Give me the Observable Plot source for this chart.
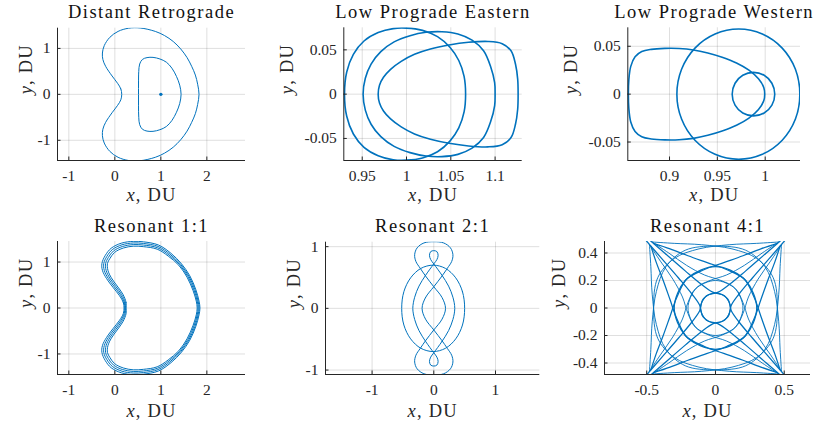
<!DOCTYPE html>
<html>
<head>
<meta charset="utf-8">
<script src="https://cdn.jsdelivr.net/npm/d3@7"></script>
<script src="https://cdn.jsdelivr.net/npm/@observablehq/plot@0.6"></script>
<style>
  html, body { margin: 0; padding: 0; background: #ffffff; }
  #root { position: relative; width: 820px; height: 425px; background: #ffffff; }
  #root svg { position: absolute; }
</style>
</head>
<body>
<div id="root"></div>
<script>
// ---------------- DATA ----------------
const titles = ["Distant Retrograde", "Low Prograde Eastern", "Low Prograde Western",
                "Resonant 1:1", "Resonant 2:1", "Resonant 4:1"];

const ticksDRO_x = [-1, 0, 1, 2], ticksDRO_y = [-1, 0, 1];
const ticksLPE_x = [0.95, 1, 1.05, 1.1], ticksLPE_y = [-0.05, 0, 0.05];
const ticksLPW_x = [0.9, 0.95, 1], ticksLPW_y = [-0.05, 0, 0.05];
const ticksR11_x = [-1, 0, 1, 2], ticksR11_y = [-1, 0, 1];
const ticksR21_x = [-1, 0, 1], ticksR21_y = [-1, 0, 1];
const ticksR41_x = [-0.5, 0, 0.5], ticksR41_y = [-0.4, -0.2, 0, 0.2, 0.4];

// Distant Retrograde
const droOuter = [[0.15,0],[0.13,0.12],[0.06,0.24],[-0.06,0.40],[-0.20,0.61],[-0.26,0.76],[-0.27,0.90],[-0.23,1.06],[-0.11,1.24],[0.07,1.37],[0.30,1.44],[0.55,1.445],[0.88,1.37],[1.08,1.28],[1.27,1.15],[1.43,0.99],[1.57,0.80],[1.67,0.61],[1.75,0.42],[1.80,0.22],[1.83,0],
  [1.80,-0.22],[1.75,-0.42],[1.67,-0.61],[1.57,-0.80],[1.43,-0.99],[1.27,-1.15],[1.08,-1.28],[0.88,-1.37],[0.55,-1.445],[0.30,-1.44],[0.07,-1.37],[-0.11,-1.24],[-0.23,-1.06],[-0.27,-0.90],[-0.26,-0.76],[-0.20,-0.61],[-0.06,-0.40],[0.06,-0.24],[0.13,-0.12]];
const droInner = [[0.515,0],[0.515,0.25],[0.52,0.50],[0.54,0.66],[0.60,0.76],[0.70,0.80],[0.83,0.805],[0.98,0.77],[1.12,0.70],[1.24,0.57],[1.34,0.39],[1.41,0.20],[1.44,0],
  [1.41,-0.20],[1.34,-0.39],[1.24,-0.57],[1.12,-0.70],[0.98,-0.77],[0.83,-0.805],[0.70,-0.80],[0.60,-0.76],[0.54,-0.66],[0.52,-0.50],[0.515,-0.25]];
const droCenter = [[1.0, 0.0]];

// Low Prograde Eastern
const lpeLoopA = [[0.930,0],[0.9325,0.025],[0.940,0.045],[0.952,0.060],[0.968,0.0695],[0.985,0.074],[1.000,0.0745],[1.018,0.072],[1.035,0.065],[1.049,0.053],[1.059,0.038],[1.065,0.020],[1.0667,0],
  [1.065,-0.020],[1.059,-0.038],[1.049,-0.053],[1.035,-0.065],[1.018,-0.072],[1.000,-0.0745],[0.985,-0.074],[0.968,-0.0695],[0.952,-0.060],[0.940,-0.045],[0.9325,-0.025]];
const lpeLoopB = [[0.951,0],[0.9535,0.018],[0.960,0.034],[0.971,0.048],[0.986,0.059],[1.004,0.066],[1.022,0.0698],[1.040,0.0705],[1.058,0.068],[1.074,0.061],[1.087,0.049],[1.095,0.031],[1.0995,0.013],[1.100,0],
  [1.0995,-0.013],[1.095,-0.031],[1.087,-0.049],[1.074,-0.061],[1.058,-0.068],[1.040,-0.0705],[1.022,-0.0698],[1.004,-0.066],[0.986,-0.059],[0.971,-0.048],[0.960,-0.034],[0.9535,-0.018]];
const lpeLoopC = [[0.968,0],[0.9695,0.010],[0.974,0.019],[0.982,0.028],[0.994,0.037],[1.009,0.045],[1.027,0.051],[1.048,0.0555],[1.070,0.0585],[1.092,0.0595],[1.108,0.057],[1.118,0.049],[1.123,0.034],[1.1255,0.017],[1.126,0],
  [1.1255,-0.017],[1.123,-0.034],[1.118,-0.049],[1.108,-0.057],[1.092,-0.0595],[1.070,-0.0585],[1.048,-0.0555],[1.027,-0.051],[1.009,-0.045],[0.994,-0.037],[0.982,-0.028],[0.974,-0.019],[0.9695,-0.010]];

// Low Prograde Western
const lpwBig = [[1.0362,0],[1.0316,0.0260],[1.0178,0.0481],[0.9970,0.0628],[0.9723,0.0680],[0.9476,0.0628],[0.9266,0.0481],[0.9126,0.0260],[0.9077,0],
  [0.9126,-0.0260],[0.9266,-0.0481],[0.9476,-0.0628],[0.9723,-0.0680],[0.9970,-0.0628],[1.0178,-0.0481],[1.0316,-0.0260]];
const lpwSmall = [[1.0100,0],[1.0070,0.0114],[0.9989,0.0197],[0.9878,0.0227],[0.9766,0.0197],[0.9685,0.0114],[0.9655,0],
  [0.9685,-0.0114],[0.9766,-0.0197],[0.9878,-0.0227],[0.9989,-0.0197],[1.0070,-0.0114]];
const lpwTeardrop = [[0.857,0],[0.8575,0.015],[0.8595,0.029],[0.8640,0.039],[0.8710,0.0445],[0.8810,0.0468],[0.8950,0.0478],[0.9100,0.0477],[0.9250,0.0462],[0.9400,0.0430],[0.9550,0.0385],[0.9700,0.0325],[0.9830,0.0250],[0.9930,0.0160],[0.9985,0.0070],[0.9995,0],
  [0.9985,-0.0070],[0.9930,-0.0160],[0.9830,-0.0250],[0.9700,-0.0325],[0.9550,-0.0385],[0.9400,-0.0430],[0.9250,-0.0462],[0.9100,-0.0477],[0.8950,-0.0478],[0.8810,-0.0468],[0.8710,-0.0445],[0.8640,-0.039],[0.8595,-0.029],[0.8575,-0.015]];

// Resonant 1:1 (four nearly parallel revolutions)
const r11Rev1 = [[0.20,0],[0.185,0.12],[0.10,0.27],[-0.04,0.45],[-0.18,0.64],[-0.27,0.82],[-0.28,0.97],[-0.21,1.14],[-0.08,1.30],[0.14,1.41],[0.40,1.45],[0.62,1.44],[0.95,1.37],[1.22,1.19],[1.45,0.96],[1.63,0.70],[1.76,0.40],[1.83,0.15],[1.85,0],
  [1.83,-0.15],[1.76,-0.40],[1.63,-0.70],[1.45,-0.96],[1.22,-1.19],[0.95,-1.37],[0.62,-1.44],[0.40,-1.45],[0.14,-1.41],[-0.08,-1.30],[-0.21,-1.14],[-0.28,-0.97],[-0.27,-0.82],[-0.18,-0.64],[-0.04,-0.45],[0.10,-0.27],[0.185,-0.12]];
const r11Rev2 = [[0.215,0],[0.205,0.12],[0.125,0.28],[-0.01,0.46],[-0.145,0.645],[-0.23,0.82],[-0.24,0.97],[-0.175,1.12],[-0.055,1.27],[0.155,1.375],[0.40,1.415],[0.62,1.405],[0.94,1.34],[1.20,1.17],[1.43,0.95],[1.61,0.69],[1.74,0.40],[1.81,0.15],[1.83,0],
  [1.81,-0.15],[1.74,-0.40],[1.61,-0.69],[1.43,-0.95],[1.20,-1.17],[0.94,-1.34],[0.62,-1.405],[0.40,-1.415],[0.155,-1.375],[-0.055,-1.27],[-0.175,-1.12],[-0.24,-0.97],[-0.23,-0.82],[-0.145,-0.645],[-0.01,-0.46],[0.125,-0.28],[0.205,-0.12]];
const r11Rev3 = [[0.23,0],[0.225,0.12],[0.15,0.29],[0.02,0.47],[-0.11,0.65],[-0.19,0.82],[-0.20,0.97],[-0.14,1.10],[-0.03,1.24],[0.17,1.34],[0.40,1.38],[0.62,1.37],[0.93,1.31],[1.18,1.15],[1.41,0.94],[1.59,0.68],[1.72,0.39],[1.79,0.15],[1.81,0],
  [1.79,-0.15],[1.72,-0.39],[1.59,-0.68],[1.41,-0.94],[1.18,-1.15],[0.93,-1.31],[0.62,-1.37],[0.40,-1.38],[0.17,-1.34],[-0.03,-1.24],[-0.14,-1.10],[-0.20,-0.97],[-0.19,-0.82],[-0.11,-0.65],[0.02,-0.47],[0.15,-0.29],[0.225,-0.12]];
const r11Rev4 = [[0.245,0],[0.245,0.12],[0.175,0.30],[0.05,0.48],[-0.075,0.655],[-0.15,0.82],[-0.16,0.97],[-0.105,1.08],[-0.005,1.21],[0.185,1.305],[0.40,1.345],[0.62,1.335],[0.92,1.28],[1.16,1.13],[1.39,0.93],[1.57,0.67],[1.70,0.38],[1.77,0.15],[1.79,0],
  [1.77,-0.15],[1.70,-0.38],[1.57,-0.67],[1.39,-0.93],[1.16,-1.13],[0.92,-1.28],[0.62,-1.335],[0.40,-1.345],[0.185,-1.305],[-0.005,-1.21],[-0.105,-1.08],[-0.16,-0.97],[-0.15,-0.82],[-0.075,-0.655],[0.05,-0.48],[0.175,-0.30],[0.245,-0.12]];

// Resonant 2:1
const r21Outer = [[0.50,0],[0.465,0.27],[0.355,0.495],[0.19,0.647],[-0.01,0.70],[-0.21,0.647],[-0.375,0.495],[-0.485,0.27],[-0.52,0],
  [-0.485,-0.27],[-0.375,-0.495],[-0.21,-0.647],[-0.01,-0.70],[0.19,-0.647],[0.355,-0.495],[0.465,-0.27]];
const r21Oval = [[0,-0.72],[0.13,-0.54],[0.24,-0.36],[0.31,-0.18],[0.34,0],[0.31,0.18],[0.24,0.36],[0.13,0.54],[0,0.72],
  [-0.05,0.79],[-0.07,0.86],[-0.05,0.92],[0,0.935],[0.05,0.92],[0.07,0.86],[0.05,0.79],[0,0.72],
  [-0.13,0.54],[-0.24,0.36],[-0.31,0.18],[-0.34,0],[-0.31,-0.18],[-0.24,-0.36],[-0.13,-0.54],[0,-0.72],
  [0.05,-0.79],[0.07,-0.86],[0.05,-0.92],[0,-0.935],[-0.05,-0.92],[-0.07,-0.86],[-0.05,-0.79]];
const r21Lobes = [[-0.19,0],[-0.134,0.175],[0,0.35],[0.134,0.525],[0.22,0.65],[0.29,0.76],[0.31,0.87],[0.27,0.98],[0.16,1.06],[0,1.08],[-0.16,1.06],[-0.27,0.98],[-0.31,0.87],[-0.29,0.76],[-0.22,0.65],[-0.134,0.525],[0,0.35],[0.134,0.175],
  [0.19,0],[0.134,-0.175],[0,-0.35],[-0.134,-0.525],[-0.22,-0.65],[-0.29,-0.76],[-0.31,-0.87],[-0.27,-0.98],[-0.16,-1.06],[0,-1.08],[0.16,-1.06],[0.27,-0.98],[0.31,-0.87],[0.29,-0.76],[0.22,-0.65],[0.134,-0.525],[0,-0.35],[-0.134,-0.175]];

// Resonant 4:1 : legs between apoapses (corners) through periapsis passes
const r41Peri011 = [
  [[-0.53,0.52],[-0.40,0.37],[-0.27,0.22],[-0.17,0.10],[-0.115,0.02],[-0.09,-0.065],[0,-0.11],[0.09,-0.065],[0.115,0.02],[0.17,0.10],[0.27,0.22],[0.40,0.37],[0.53,0.52]],
  [[0.52,0.53],[0.37,0.40],[0.22,0.27],[0.10,0.17],[0.02,0.115],[-0.065,0.09],[-0.11,0],[-0.065,-0.09],[0.02,-0.115],[0.10,-0.17],[0.22,-0.27],[0.37,-0.40],[0.52,-0.53]],
  [[0.53,-0.52],[0.40,-0.37],[0.27,-0.22],[0.17,-0.10],[0.115,-0.02],[0.09,0.065],[0,0.11],[-0.09,0.065],[-0.115,-0.02],[-0.17,-0.10],[-0.27,-0.22],[-0.40,-0.37],[-0.53,-0.52]],
  [[-0.52,-0.53],[-0.37,-0.40],[-0.22,-0.27],[-0.10,-0.17],[-0.02,-0.115],[0.065,-0.09],[0.11,0],[0.065,0.09],[-0.02,0.115],[-0.10,0.17],[-0.22,0.27],[-0.37,0.40],[-0.52,0.53]]];
const r41Peri020 = [
  [[-0.48,0.46],[-0.40,0.34],[-0.31,0.21],[-0.24,0.08],[-0.20,-0.04],[-0.145,-0.14],[0,-0.20],[0.145,-0.14],[0.20,-0.04],[0.24,0.08],[0.31,0.21],[0.40,0.34],[0.48,0.46]],
  [[0.46,0.48],[0.34,0.40],[0.21,0.31],[0.08,0.24],[-0.04,0.20],[-0.14,0.145],[-0.20,0],[-0.14,-0.145],[-0.04,-0.20],[0.08,-0.24],[0.21,-0.31],[0.34,-0.40],[0.46,-0.48]],
  [[0.48,-0.46],[0.40,-0.34],[0.31,-0.21],[0.24,-0.08],[0.20,0.04],[0.145,0.14],[0,0.20],[-0.145,0.14],[-0.20,0.04],[-0.24,-0.08],[-0.31,-0.21],[-0.40,-0.34],[-0.48,-0.46]],
  [[-0.46,-0.48],[-0.34,-0.40],[-0.21,-0.31],[-0.08,-0.24],[0.04,-0.20],[0.14,-0.145],[0.20,0],[0.14,0.145],[0.04,0.20],[-0.08,0.24],[-0.21,0.31],[-0.34,0.40],[-0.46,0.48]]];
const r41Peri030 = [
  [[-0.47,0.45],[-0.43,0.33],[-0.38,0.20],[-0.33,0.06],[-0.28,-0.08],[-0.20,-0.22],[0,-0.30],[0.20,-0.22],[0.28,-0.08],[0.33,0.06],[0.38,0.20],[0.43,0.33],[0.47,0.45]],
  [[0.45,0.47],[0.33,0.43],[0.20,0.38],[0.06,0.33],[-0.08,0.28],[-0.22,0.20],[-0.30,0],[-0.22,-0.20],[-0.08,-0.28],[0.06,-0.33],[0.20,-0.38],[0.33,-0.43],[0.45,-0.47]],
  [[0.47,-0.45],[0.43,-0.33],[0.38,-0.20],[0.33,-0.06],[0.28,0.08],[0.20,0.22],[0,0.30],[-0.20,0.22],[-0.28,0.08],[-0.33,-0.06],[-0.38,-0.20],[-0.43,-0.33],[-0.47,-0.45]],
  [[-0.45,-0.47],[-0.33,-0.43],[-0.20,-0.38],[-0.06,-0.33],[0.08,-0.28],[0.22,-0.20],[0.30,0],[0.22,0.20],[0.08,0.28],[-0.06,0.33],[-0.20,0.38],[-0.33,0.43],[-0.45,0.47]]];
const r41Peri045 = [
  [[-0.48,0.46],[-0.47,0.30],[-0.46,0.10],[-0.43,-0.12],[-0.36,-0.30],[-0.22,-0.42],[0,-0.45],[0.22,-0.42],[0.36,-0.30],[0.43,-0.12],[0.46,0.10],[0.47,0.30],[0.48,0.46]],
  [[0.46,0.48],[0.30,0.47],[0.10,0.46],[-0.12,0.43],[-0.30,0.36],[-0.42,0.22],[-0.45,0],[-0.42,-0.22],[-0.30,-0.36],[-0.12,-0.43],[0.10,-0.46],[0.30,-0.47],[0.46,-0.48]],
  [[0.48,-0.46],[0.47,-0.30],[0.46,-0.10],[0.43,0.12],[0.36,0.30],[0.22,0.42],[0,0.45],[-0.22,0.42],[-0.36,0.30],[-0.43,0.12],[-0.46,-0.10],[-0.47,-0.30],[-0.48,-0.46]],
  [[-0.46,-0.48],[-0.30,-0.47],[-0.10,-0.46],[0.12,-0.43],[0.30,-0.36],[0.42,-0.22],[0.45,0],[0.42,0.22],[0.30,0.36],[0.12,0.43],[-0.10,0.46],[-0.30,0.47],[-0.46,0.48]]];

// ---------------- LAYOUT ----------------
const BLUE = "#0072BD", AX = "#262626";
const panels = [
  {title: titles[0], region:[0,0,273,212], frame:[57,27.7,245,160], xd:[-1.246,2.84], yd:[-1.44,1.44], xt:ticksDRO_x, yt:ticksDRO_y,
   titleBase:17, xlabBase:200, ylabX:26, closed:[droOuter, droInner], dots: droCenter, sw:1},
  {title: titles[1], region:[273,0,274,212], frame:[343.3,27.3,521.7,160], xd:[0.9292,1.1306], yd:[-0.0749,0.0749], xt:ticksLPE_x, yt:ticksLPE_y,
   titleBase:17, xlabBase:200, ylabX:287, closed:[lpeLoopA, lpeLoopB, lpeLoopC], sw:1.6},
  {title: titles[2], region:[547,0,273,212], frame:[627.3,27.3,800,160], xd:[0.8564,1.0369], yd:[-0.0693,0.0693], xt:ticksLPW_x, yt:ticksLPW_y,
   titleBase:17, xlabBase:200, ylabX:571, closed:[lpwBig, lpwSmall, lpwTeardrop], sw:1.6},
  {title: titles[3], region:[0,212,273,213], frame:[57,241,245,374], xd:[-1.246,2.84], yd:[-1.447,1.447], xt:ticksR11_x, yt:ticksR11_y,
   titleBase:231, xlabBase:416, ylabX:26, closed:[r11Rev1, r11Rev2, r11Rev3, r11Rev4], sw:1},
  {title: titles[4], region:[273,212,274,213], frame:[325,241.7,539.3,374], xd:[-1.755,1.718], yd:[-1.072,1.072], xt:ticksR21_x, yt:ticksR21_y,
   titleBase:231, xlabBase:416, ylabX:294, closed:[r21Outer, r21Oval, r21Lobes], sw:1},
  {title: titles[5], region:[547,212,273,213], frame:[604,241,810,374], xd:[-0.807,0.691], yd:[-0.4836,0.4836], xt:ticksR41_x, yt:ticksR41_y,
   titleBase:231, xlabBase:416, ylabX:559, open:[...r41Peri020, ...r41Peri045], openBold:[...r41Peri011, ...r41Peri030], sw:0.9}
];

const root = document.getElementById("root");
const fmt = d => String(d);
const rowsOf = list => (list || []).flatMap((pts, k) => pts.map(([x, y]) => ({x, y, k})));

for (const p of panels) {
  const [x0, y0, w, h] = p.region;
  const [L, T, R, B] = p.frame;
  const kx = (R - L) / (p.xd[1] - p.xd[0]);
  const ky = (B - T) / (p.yd[1] - p.yd[0]);
  const svg = Plot.plot({
    width: w, height: h,
    marginLeft: L - x0, marginRight: x0 + w - R, marginTop: T - y0, marginBottom: y0 + h - B,
    x: {domain: p.xd}, y: {domain: p.yd},
    style: {fontFamily: "'Liberation Serif', 'Times New Roman', serif", fontSize: "15.5px", color: AX, background: "transparent", overflow: "visible"},
    marks: [
      Plot.gridX(p.xt, {stroke: AX, strokeOpacity: 0.15, strokeWidth: 1}),
      Plot.gridY(p.yt, {stroke: AX, strokeOpacity: 0.15, strokeWidth: 1}),
      Plot.line(rowsOf(p.closed), {x: "x", y: "y", z: "k", curve: "catmull-rom-closed", stroke: BLUE, strokeWidth: p.sw, clip: true}),
      Plot.line(rowsOf(p.open), {x: "x", y: "y", z: "k", curve: "catmull-rom", stroke: BLUE, strokeWidth: p.sw, clip: true}),
      Plot.line(rowsOf(p.openBold), {x: "x", y: "y", z: "k", curve: "catmull-rom", stroke: BLUE, strokeWidth: 1.25, clip: true}),
      Plot.dot(p.dots || [], {x: d => d[0], y: d => d[1], r: 1.7, fill: BLUE, stroke: null}),
      Plot.ruleX(p.xt, {y1: p.yd[0], y2: p.yd[0] + 3.5 / ky, stroke: AX}),
      Plot.ruleY(p.yt, {x1: p.xd[0], x2: p.xd[0] + 3.5 / kx, stroke: AX}),
      Plot.ruleY([p.yd[0]], {stroke: AX}),
      Plot.ruleX([p.xd[0]], {stroke: AX}),
      Plot.axisX(p.xt, {anchor: "bottom", tickSize: 0, tickPadding: 9, tickFormat: fmt, label: null}),
      Plot.axisY(p.yt, {anchor: "left", tickSize: 0, tickPadding: 7, tickFormat: fmt, label: null}),
      Plot.text([p.title], {text: d => d, frameAnchor: "top", dy: p.titleBase - T, lineAnchor: "bottom", fontSize: 18.5, fill: "#111"}),
      Plot.text(["x, DU"], {text: d => d, frameAnchor: "bottom", dy: p.xlabBase - B, lineAnchor: "bottom", fontSize: 18.5, fill: AX}),
      Plot.text(["y, DU"], {text: d => d, frameAnchor: "left", dx: p.ylabX - L, rotate: -90, lineAnchor: "middle", fontSize: 18.5, fill: AX})
    ]
  });
  svg.style.left = x0 + "px";
  svg.style.top = y0 + "px";
  d3.select(svg).selectAll("text").each(function () {
    const t = this.textContent;
    if (t === "x, DU" || t === "y, DU") {
      const sel = d3.select(this);
      this.textContent = "";
      sel.append("tspan").attr("font-style", "italic").text(t[0]);
      sel.append("tspan").text(", DU");
      sel.attr("letter-spacing", "1.2");
    } else if (titles.includes(t)) {
      d3.select(this).attr("letter-spacing", "1.5");
    }
  });
  root.appendChild(svg);
}
</script>
</body>
</html>
